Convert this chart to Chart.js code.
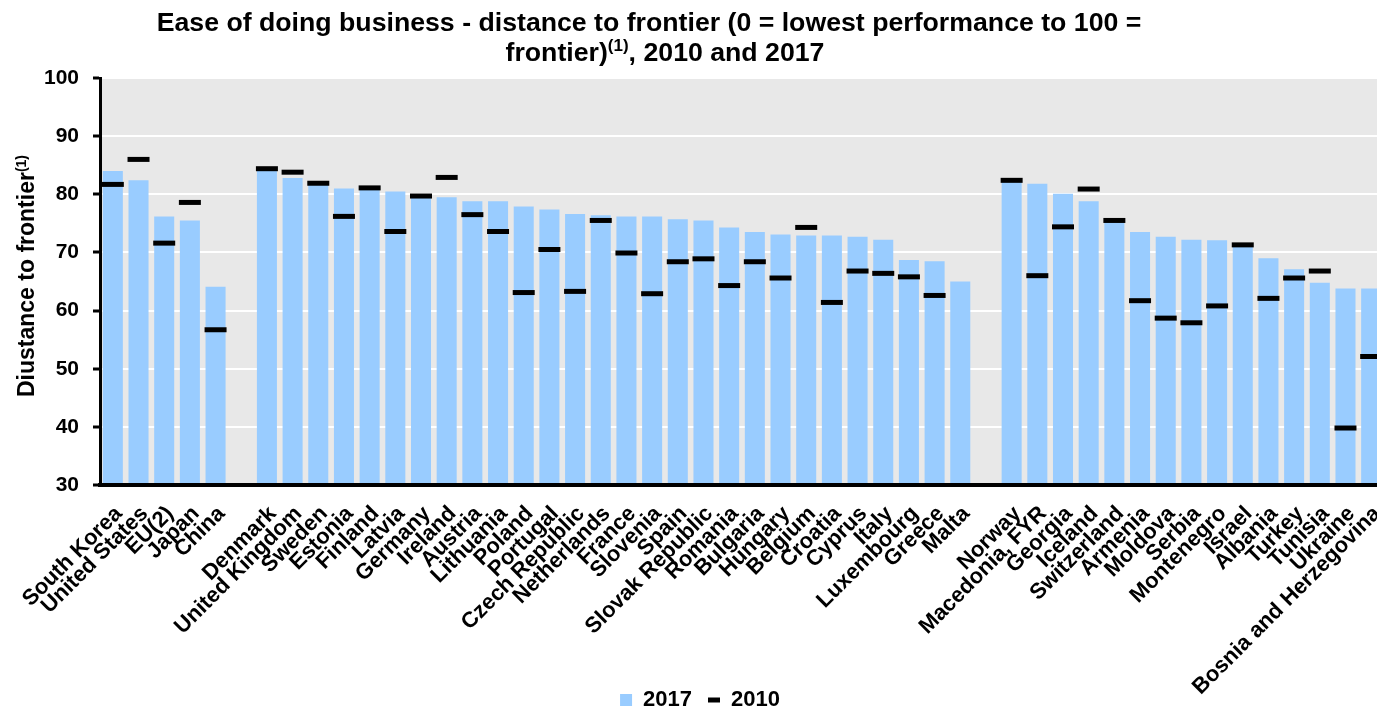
<!DOCTYPE html>
<html lang="en">
<head>
    <meta charset="UTF-8">
    <title>Ease of doing business - distance to frontier</title>
    <style>
        html, body {
            margin: 0;
            padding: 0;
            background: #ffffff;
            overflow: hidden;
        }

        #doingBusiness {
            display: block;
        }
    </style>
</head>
<body>
    <canvas id="doingBusiness" width="1400" height="710"></canvas>

    <script src="https://cdn.jsdelivr.net/npm/chart.js"></script>
    <script>
        // categories ('' = spacer between the country groups)
        const countries = [
            'South Korea', 'United States', 'EU(2)', 'Japan', 'China', '',
            'Denmark', 'United Kingdom', 'Sweden', 'Estonia', 'Finland', 'Latvia', 'Germany',
            'Ireland', 'Austria', 'Lithuania', 'Poland', 'Portugal', 'Czech Republic',
            'Netherlands', 'France', 'Slovenia', 'Spain', 'Slovak Republic', 'Romania',
            'Bulgaria', 'Hungary', 'Belgium', 'Croatia', 'Cyprus', 'Italy', 'Luxembourg',
            'Greece', 'Malta', '',
            'Norway', 'Macedonia, FYR', 'Georgia', 'Iceland', 'Switzerland', 'Armenia',
            'Moldova', 'Serbia', 'Montenegro', 'Israel', 'Albania', 'Turkey', 'Tunisia',
            'Ukraine', 'Bosnia and Herzegovina'
        ];

        const values2017 = [
            84.0, 82.4, 76.2, 75.5, 64.1, null,
            84.1, 82.8, 81.7, 81.0, 80.9, 80.5, 79.9, 79.5, 78.8, 78.8,
            77.9, 77.4, 76.6, 76.4, 76.2, 76.2, 75.7, 75.5, 74.3, 73.5,
            73.1, 72.9, 72.9, 72.7, 72.2, 68.7, 68.5, 65.0, null,
            82.2, 81.8, 80.1, 78.8, 75.3, 73.5, 72.7, 72.2, 72.1, 71.1,
            69.0, 67.1, 64.8, 63.8, 63.8
        ];

        const values2010 = [
            81.7, 86.0, 71.6, 78.6, 56.7, null,
            84.4, 83.8, 81.9, 76.2, 81.1, 73.6, 79.7, 82.9, 76.5, 73.6,
            63.1, 70.5, 63.3, 75.5, 69.9, 62.9, 68.4, 68.9, 64.3, 68.4,
            65.6, 74.3, 61.4, 66.8, 66.4, 65.8, 62.6, null, null,
            82.4, 66.0, 74.4, 80.9, 75.5, 61.7, 58.7, 57.9, 60.8, 71.3,
            62.1, 65.6, 66.8, 39.8, 52.1
        ];

        const yTickValues = [30, 40, 50, 60, 70, 80, 90, 100];

        const FONT = '"Liberation Sans", Arial, sans-serif';

        // gray plot area
        const plotBackground = {
            id: 'plotBackground',
            beforeDraw(chart) {
                const { ctx, chartArea } = chart;
                ctx.save();
                ctx.fillStyle = '#e8e8e8';
                ctx.fillRect(chartArea.left, chartArea.top, chartArea.right - chartArea.left, chartArea.bottom - chartArea.top);
                ctx.restore();
            }
        };

        // draws a line made of normal / superscript pieces, centered on x
        function drawRuns(ctx, runs, x, y, size, supSize, rise) {
            let total = 0;
            runs.forEach(r => {
                ctx.font = `bold ${r.sup ? supSize : size}px ${FONT}`;
                total += ctx.measureText(r.text).width;
            });
            let cx = x - total / 2;
            runs.forEach(r => {
                ctx.font = `bold ${r.sup ? supSize : size}px ${FONT}`;
                ctx.fillText(r.text, cx, r.sup ? y - rise : y);
                cx += ctx.measureText(r.text).width;
            });
        }

        // title and y axis title, both carry a "(1)" superscript
        const titles = {
            id: 'titles',
            afterDraw(chart) {
                const ctx = chart.ctx;
                ctx.save();
                ctx.fillStyle = '#000';
                ctx.textAlign = 'left';
                ctx.textBaseline = 'alphabetic';
                drawRuns(ctx, [{ text: 'Ease of doing business - distance to frontier (0 = lowest performance to 100 =' }], 649, 31, 26.7, 16, 10);
                drawRuns(ctx, [
                    { text: 'frontier)' },
                    { text: '(1)', sup: true },
                    { text: ', 2010 and 2017' }
                ], 665, 61, 26.7, 17, 10);

                ctx.translate(34, 276);
                ctx.rotate(-Math.PI / 2);
                drawRuns(ctx, [
                    { text: 'Diustance to frontier' },
                    { text: '(1)', sup: true }
                ], 0, 0, 23, 14, 8);
                ctx.restore();
            }
        };

        const ctx = document.getElementById('doingBusiness').getContext('2d');

        new Chart(ctx, {
            data: {
                labels: countries,
                datasets: [
                    {
                        type: 'bar',
                        label: '2017',
                        data: values2017,
                        backgroundColor: '#99ccff',
                        borderWidth: 0,
                        pointStyle: 'rect',
                        barPercentage: 0.78,
                        categoryPercentage: 1.0,
                        order: 1
                    },
                    {
                        type: 'line',
                        label: '2010',
                        data: values2010,
                        showLine: false,
                        pointStyle: 'line',
                        pointRadius: 11,
                        pointHoverRadius: 11,
                        pointBorderWidth: 5,
                        borderWidth: 5,
                        borderColor: '#000000',
                        backgroundColor: '#000000',
                        order: 0
                    }
                ]
            },
            options: {
                responsive: false,
                animation: false,
                devicePixelRatio: 1,
                layout: {
                    padding: { top: 78, right: 0, left: 0, bottom: -11 }
                },
                plugins: {
                    title: { display: false },
                    tooltip: { enabled: false },
                    legend: {
                        position: 'bottom',
                        labels: {
                            usePointStyle: true,
                            pointStyleWidth: 12,
                            boxWidth: 12,
                            boxHeight: 12,
                            padding: 16,
                            color: '#000',
                            font: { family: FONT, size: 22, weight: 'bold', lineHeight: 1 },
                            sort: (a, b) => a.datasetIndex - b.datasetIndex
                        }
                    }
                },
                scales: {
                    x: {
                        grid: { display: false },
                        border: { display: true, color: '#000', width: 4, z: 1 },
                        ticks: {
                            autoSkip: false,
                            maxRotation: 45,
                            minRotation: 45,
                            padding: 8,
                            labelOffset: 6,
                            color: '#000',
                            font: { family: FONT, size: 22, weight: 'bold' }
                        },
                        afterFit(scale) {
                            scale.height = 188;
                            scale.paddingLeft = 0;
                            scale.paddingRight = 0;
                        },
                        afterUpdate(scale) {
                            // long rotated names run down next to the legend: don't clip them to the axis box
                            scale._computeLabelArea = () => undefined;
                        }
                    },
                    y: {
                        min: 30,
                        max: 100,
                        afterBuildTicks(scale) {
                            scale.ticks = yTickValues.map(v => ({ value: v }));
                        },
                        grid: {
                            color: '#ffffff',
                            lineWidth: 2,
                            tickColor: '#000',
                            tickWidth: 3,
                            tickLength: 7
                        },
                        border: { display: true, color: '#000', width: 3, z: 1 },
                        ticks: {
                            padding: 14,
                            color: '#000',
                            font: { family: FONT, size: 21, weight: 'bold' }
                        },
                        afterFit(scale) {
                            scale.width = 100;
                        }
                    }
                }
            },
            plugins: [plotBackground, titles]
        });
    </script>
</body>
</html>
